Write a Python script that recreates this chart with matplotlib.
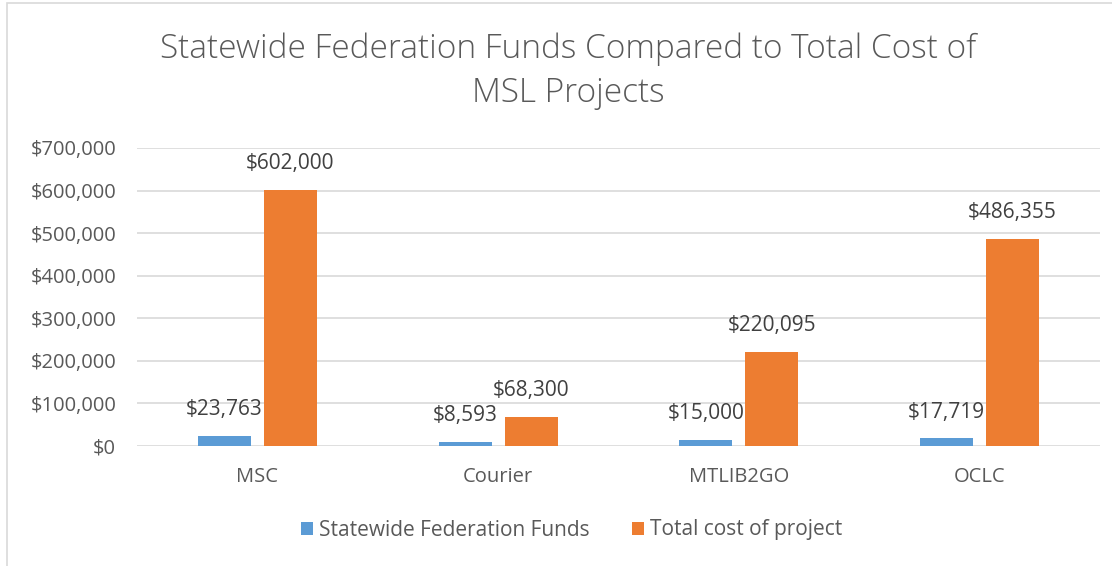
import matplotlib.pyplot as plt
from matplotlib.patches import Rectangle
from matplotlib.ticker import FuncFormatter
import numpy as np

plt.rcParams['font.family'] = ['Open Sans', 'DejaVu Sans']

title = "Statewide Federation Funds Compared to Total Cost of\nMSL Projects"
categories = ["MSC", "Courier", "MTLIB2GO", "OCLC"]
series_names = ["Statewide Federation Funds", "Total cost of project"]
federation_funds = [23763, 8593, 15000, 17719]
total_cost = [602000, 68300, 220095, 486355]
colors = ["#5B9BD5", "#ED7D31"]

fig = plt.figure(figsize=(11.12, 5.66), dpi=100)
ax = fig.add_axes([137 / 1112, 1 - 446 / 566, (1100 - 137) / 1112, (446 - 148) / 566])

# light chart-area border (top and left visible in the reference)
fig.patches.append(Rectangle((7 / 1112, -0.1), 1.2, 1.1 - 3 / 566, transform=fig.transFigure,
                             fill=False, edgecolor="#D9D9D9", linewidth=1.2))

x = np.arange(len(categories))
width = 0.22
offset = 0.137
for i, (vals, name) in enumerate(zip([federation_funds, total_cost], series_names)):
    pos = x + (i * 2 - 1) * offset
    bars = ax.bar(pos, vals, width, color=colors[i], label=name, zorder=3)
    for b, v in zip(bars, vals):
        ax.annotate(f"${v:,.0f}", (b.get_x() + b.get_width() / 2, v),
                    xytext=(0, 19), textcoords="offset points",
                    ha="center", va="center", fontsize=15, color="#404040")

ax.set_xlim(-0.5, len(categories) - 0.5)
ax.set_ylim(0, 700000)
ax.set_yticks(np.arange(0, 700001, 100000))
ax.yaxis.set_major_formatter(FuncFormatter(lambda v, p: f"${v:,.0f}"))
ax.set_xticks(x)
ax.set_xticklabels(categories)
ax.tick_params(axis="both", length=0, labelsize=14.5, labelcolor="#595959")
ax.tick_params(axis="x", pad=15)
ax.tick_params(axis="y", pad=15)
ax.grid(axis="y", color="#D9D9D9", linewidth=1.2, zorder=0)
for s in ax.spines.values():
    s.set_visible(False)

fig.text(0.511, 1 - 71 / 566, title, ha="center", va="center", fontsize=24,
         color="#595959", linespacing=1.42, fontweight="light")

fig.legend(loc="center", bbox_to_anchor=(0.514, 1 - 530 / 566), ncol=2, frameon=False,
           fontsize=15, handlelength=0.6, handleheight=0.6, columnspacing=2.0,
           handletextpad=0.3, labelcolor="#595959")

fig.savefig("out.png", dpi=100)
